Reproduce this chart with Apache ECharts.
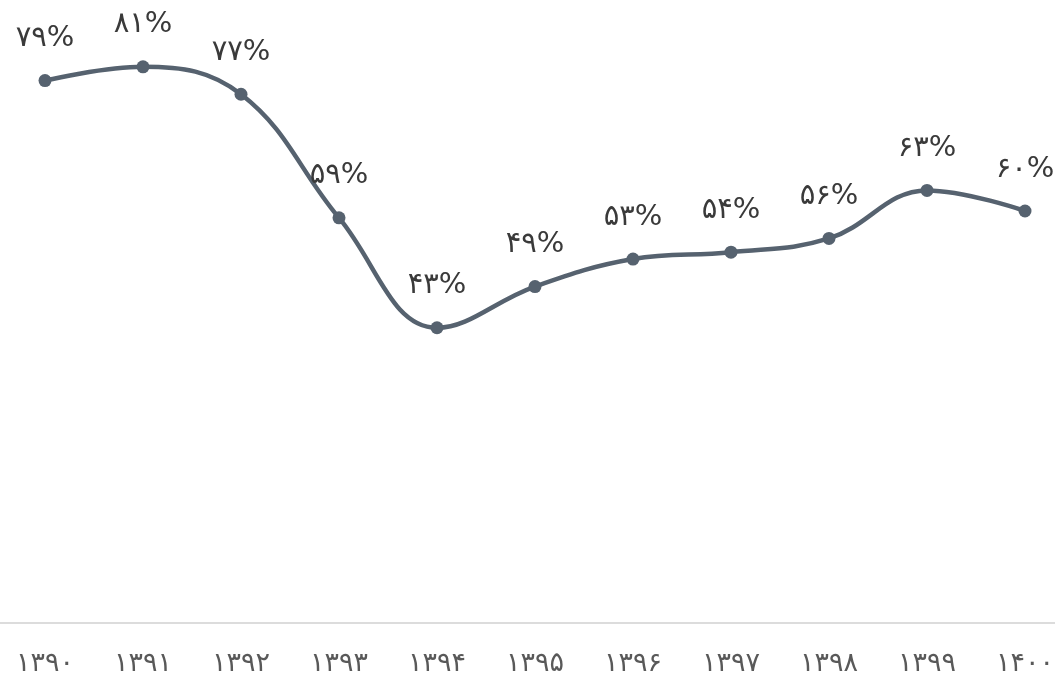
<!DOCTYPE html>
<html>
<head>
<meta charset="utf-8">
<script src="https://cdn.jsdelivr.net/npm/echarts@6/dist/echarts.min.js"></script>
<style>
  html, body { margin: 0; padding: 0; background: #fff; }
  #chart { width: 1055px; height: 683px; }
</style>
</head>
<body>
<div id="chart"></div>
<script>
const years = ["۱۳۹۰", "۱۳۹۱", "۱۳۹۲", "۱۳۹۳", "۱۳۹۴", "۱۳۹۵", "۱۳۹۶", "۱۳۹۷", "۱۳۹۸", "۱۳۹۹", "۱۴۰۰"];
const shares = [79, 81, 77, 59, 43, 49, 53, 54, 56, 63, 60];

const faDigits = "۰۱۲۳۴۵۶۷۸۹";
const toFa = (n) => String(n).replace(/\d/g, (d) => faDigits[d]);

const chart = echarts.init(document.getElementById("chart"));
chart.setOption({
  animation: false,
  grid: { left: -4, width: 1078, top: 5, bottom: 60, outerBoundsMode: "none", containLabel: false },
  xAxis: {
    type: "category",
    data: years,
    boundaryGap: true,
    axisLine: { lineStyle: { color: "#dcdcdc", width: 2 } },
    axisTick: { show: false },
    axisLabel: { color: "#595959", fontSize: 27, margin: 27, fontFamily: "DejaVu Sans" }
  },
  yAxis: {
    type: "value",
    min: 0,
    max: 90,
    show: false,
    splitLine: { show: false }
  },
  series: [
    {
      type: "line",
      data: shares,
      smooth: 0.4,
      symbol: "circle",
      symbolSize: 13,
      lineStyle: { color: "#56626f", width: 4.5 },
      itemStyle: { color: "#56626f" },
      label: {
        show: true,
        position: "top",
        distance: 21,
        color: "#3a3a3a",
        fontSize: 29,
        fontFamily: "DejaVu Sans",
        formatter: (p) => toFa(p.value) + "%"
      }
    }
  ]
});
</script>
</body>
</html>
